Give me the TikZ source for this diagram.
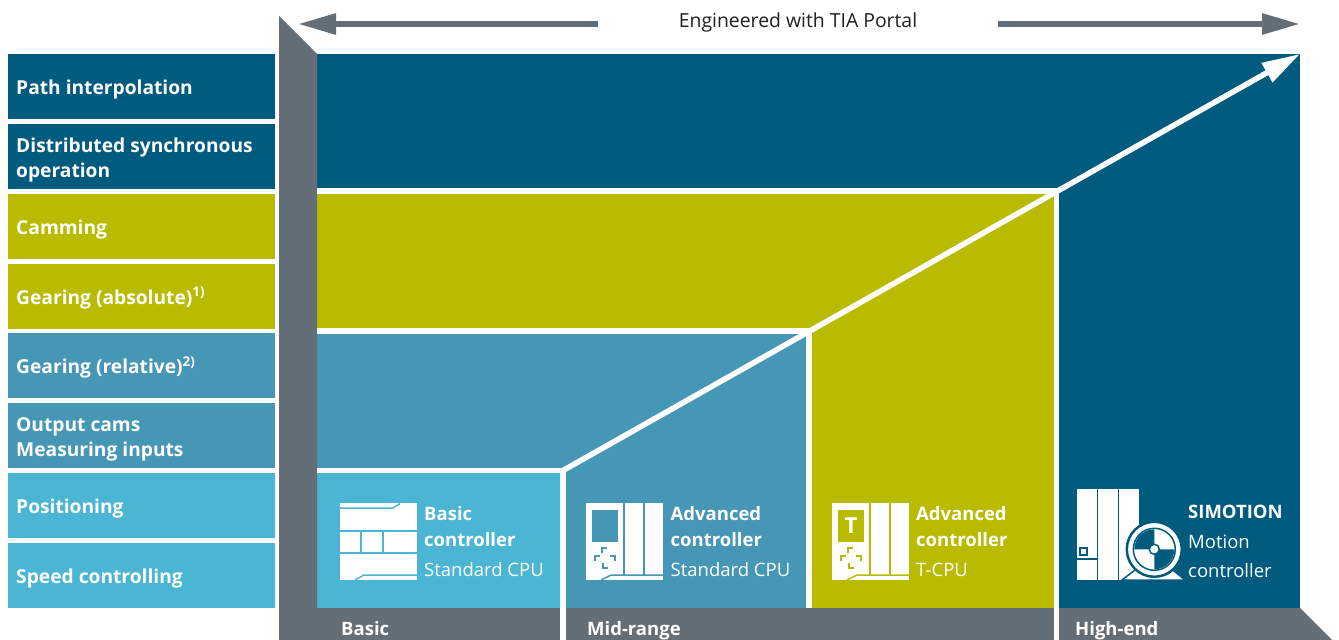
\documentclass[tikz,border=0pt]{standalone}
\usepackage{fontspec}
\setmainfont{Open Sans}
\usetikzlibrary{arrows.meta}
\definecolor{dkblue}{RGB}{0,91,127}
\definecolor{siolive}{RGB}{185,187,0}
\definecolor{midblue}{RGB}{70,150,182}
\definecolor{ltblue}{RGB}{75,182,212}
\definecolor{sigray}{RGB}{100,110,118}
\begin{document}
\begin{tikzpicture}[x=1pt,y=-1pt,
  rowbox/.style={minimum width=267pt,minimum height=65pt,inner sep=0,outer sep=0,draw=none},
  lbl/.style={anchor=base west,text=white,inner sep=0,font=\fontsize{19.2}{24}\selectfont\bfseries},
  blbl/.style={anchor=base west,text=white,inner sep=0,font=\fontsize{18.5}{22}\selectfont\bfseries},
  ctxt/.style={anchor=base west,text=white,inner sep=0,font=\fontsize{18.5}{22}\selectfont},
  ctxtb/.style={anchor=base west,text=white,inner sep=0,font=\fontsize{18.5}{22}\selectfont\bfseries},
  sep/.style={white,line width=5.5pt},
  icl/.style={line width=1.5pt},
  bigarrow/.style={line width=6pt,-{Triangle[length=38pt 0 0,width=20pt 0 0]}}
]
\useasboundingbox (0,0) rectangle (1339,640);

% ---- left row boxes ----
\node[rowbox,fill=dkblue]  (r1) at (141.5,86.5)  {};
\node[rowbox,fill=dkblue]  (r2) at (141.5,156.4) {};
\node[rowbox,fill=siolive] (r3) at (141.5,226.2) {};
\node[rowbox,fill=siolive] (r4) at (141.5,296.1) {};
\node[rowbox,fill=midblue] (r5) at (141.5,365.9) {};
\node[rowbox,fill=midblue] (r6) at (141.5,435.8) {};
\node[rowbox,fill=ltblue]  (r7) at (141.5,505.7) {};
\node[rowbox,fill=ltblue]  (r8) at (141.5,575.5) {};

\node[lbl] (t1)  at (16,94.5)  {Path interpolation};
\node[lbl] (t2a) at (16,152.4) {Distributed synchronous};
\node[lbl] (t2b) at (16,177.4) {operation};
\node[lbl] (t3)  at (16,234.2) {Camming};
\node[lbl] (t4)  at (16,304.1) {Gearing (absolute)\textsuperscript{1)}};
\node[lbl] (t5)  at (16,373.9) {Gearing (relative)\textsuperscript{2)}};
\node[lbl] (t6a) at (16,431.8) {Output cams};
\node[lbl] (t6b) at (16,456.8) {Measuring inputs};
\node[lbl] (t7)  at (16,513.7) {Positioning};
\node[lbl] (t8)  at (16,583.5) {Speed controlling};

% ---- main coloured areas ----
\fill[dkblue] (317,54) rectangle (1300,608);
\fill[siolive] (317,191) -- (1056.5,191) -- (1056.5,608) -- (809,608) -- (809,331) -- (317,331) -- cycle;
\fill[midblue] (317,331) -- (809,331) -- (809,608) -- (563,608) -- (563,470.5) -- (317,470.5) -- cycle;
\fill[ltblue] (317,470.5) rectangle (563,608);

% ---- gray frame ----
\fill[sigray] (279,16) -- (317,54) -- (317,608) -- (1300,608) -- (1332,640) -- (279,640) -- cycle;

% ---- white separators ----
\draw[sep] (317,191) -- (1059,191);
\draw[sep] (1056.5,191) -- (1056.5,640);
\draw[sep] (317,331) -- (811.5,331);
\draw[sep] (809,331) -- (809,608);
\draw[sep] (317,470.5) -- (565.5,470.5);
\draw[sep] (563,470.5) -- (563,640);

% ---- diagonal arrow ----
\coordinate (d0) at (563,470.5);
\coordinate (d1) at (1300,54);
\draw[white,line width=5.5pt,-{Triangle[length=38pt 0 0,width=21pt 0 0]}] (d0) -- (d1);

% ---- top arrows and title ----
\coordinate (la0) at (598,24);
\coordinate (la1) at (298,24);
\coordinate (ra0) at (998,24);
\coordinate (ra1) at (1300,24);
\draw[sigray,bigarrow] (la0) -- (la1);
\draw[sigray,bigarrow] (ra0) -- (ra1);
\node[anchor=base,inner sep=0,text=black!88,font=\fontsize{19.4}{22}\selectfont] (title) at (798,27.5) {Engineered with TIA Portal};

% ---- bottom labels ----
\node[blbl] (bb) at (341,635) {Basic};
\node[blbl] (bm) at (587,635) {Mid-range};
\node[blbl] (bh) at (1075,635) {High-end};

% ---- basic controller icon ----
\begin{scope}[shift={(340,503)}]
  \fill[white] (0,0) rectangle (77,77);
  \draw[ltblue,icl] (0,5) -- (53,5) -- (60,0.5);
  \draw[ltblue,icl] (0,28) -- (77,28);
  \draw[ltblue,icl] (21,28) -- (21,50);
  \draw[ltblue,icl] (43,28) -- (43,50);
  \draw[ltblue,icl] (0,50) -- (77,50);
  \draw[ltblue,icl] (15,77) -- (24,72) -- (77,72);
\end{scope}
\node[ctxtb] (c1a) at (424,520) {Basic};
\node[ctxtb] (c1b) at (424,546) {controller};
\node[ctxt]  (c1c) at (424,576) {Standard CPU};

% ---- advanced controller icon ----
\begin{scope}[shift={(586,503)}]
  \fill[white] (0,0) rectangle (77,77);
  \fill[midblue] (6,7) rectangle (32,39);
  \draw[midblue,icl] (38,0) -- (38,72);
  \draw[midblue,icl] (58,0) -- (58,72);
  \draw[midblue,icl] (15,77) -- (25,72) -- (77,72);
  \draw[midblue,icl] (16,50) -- (16,45) -- (21,45);
  \draw[midblue,icl] (9,58) -- (9,53) -- (14,53);
  \draw[midblue,icl] (24,53) -- (29,53) -- (29,58);
  \draw[midblue,icl] (17,60) -- (17,65) -- (22,65);
\end{scope}
\node[ctxtb] (c2a) at (670.5,520) {Advanced};
\node[ctxtb] (c2b) at (670.5,546) {controller};
\node[ctxt]  (c2c) at (670.5,576) {Standard CPU};

% ---- T-CPU icon ----
\begin{scope}[shift={(832,503)}]
  \fill[white] (0,0) rectangle (77,77);
  \fill[siolive] (6,7) rectangle (32,39);
  \node[text=white,inner sep=0,font=\fontsize{22}{22}\selectfont\bfseries] (tletter) at (19,23) {T};
  \draw[siolive,icl] (38,0) -- (38,72);
  \draw[siolive,icl] (58,0) -- (58,72);
  \draw[siolive,icl] (15,77) -- (25,72) -- (77,72);
  \draw[siolive,icl] (16,50) -- (16,45) -- (21,45);
  \draw[siolive,icl] (9,58) -- (9,53) -- (14,53);
  \draw[siolive,icl] (24,53) -- (29,53) -- (29,58);
  \draw[siolive,icl] (17,60) -- (17,65) -- (22,65);
\end{scope}
\node[ctxtb] (c3a) at (916,520) {Advanced};
\node[ctxtb] (c3b) at (916,546) {controller};
\node[ctxt]  (c3c) at (916,576) {T-CPU};

% ---- SIMOTION icon ----
\begin{scope}[shift={(1077,489)}]
  \fill[white] (0,0) rectangle (62,91);
  \draw[dkblue,icl] (20.5,0) -- (20.5,91);
  \draw[dkblue,icl] (41.5,0) -- (41.5,91);
  \draw[dkblue,icl] (3,59) rectangle (10,66);
  \draw[dkblue,icl] (0,70) -- (20.5,70);
  \fill[white,draw=dkblue,line width=1.5pt] (45,91) -- (63,77) -- (91,77) -- (108,91) -- cycle;
  \coordinate (mc) at (77.3,60.3);
  \fill[white,draw=dkblue,line width=2.5pt] (mc) circle (27.5);
  \draw[dkblue,line width=1.5pt] (mc) circle (21);
  \fill[dkblue] (mc) -- ++(-20pt,0pt) arc[start angle=180,end angle=90,radius=20pt] -- cycle;
  \fill[dkblue] (mc) -- ++(20pt,0pt) arc[start angle=0,end angle=-90,radius=20pt] -- cycle;
  \fill[white,draw=dkblue,line width=1.5pt] (mc) circle (5);
\end{scope}
\node[ctxtb] (c4a) at (1188,518) {SIMOTION};
\node[ctxt]  (c4b) at (1188,548) {Motion};
\node[ctxt]  (c4c) at (1188,577) {controller};
\end{tikzpicture}
\end{document}
